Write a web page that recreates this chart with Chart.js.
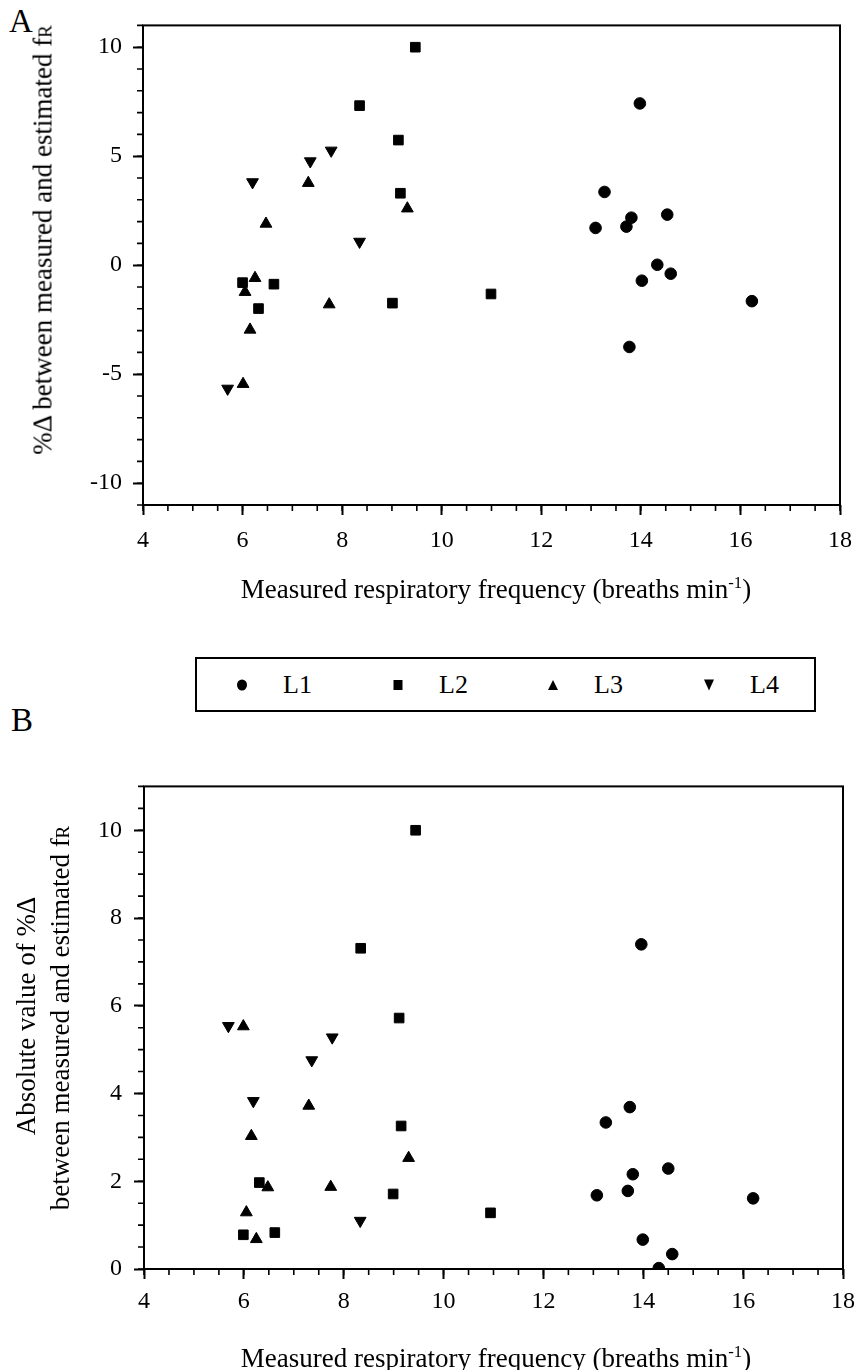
<!DOCTYPE html>
<html>
<head>
<meta charset="utf-8">
<script src="https://cdn.jsdelivr.net/npm/chart.js@4.4.1/dist/chart.umd.min.js"></script>
<style>
  body { margin:0; background:#fff; color:#000; font-family:"Liberation Serif","Times New Roman",serif }
  #page { position:relative; width:863px; height:1370px; overflow:hidden; background:#fff }
  .wrap { position:absolute; left:0; width:863px }
  .t { position:absolute; white-space:nowrap; transform:translate(-50%,-50%); font-size:27px; line-height:1 }
  .rot { transform:translate(-50%,-50%) rotate(-90deg) }
  .panel { position:absolute; font-size:33px; line-height:1 }
  .sup { font-size:0.62em; position:relative; top:-0.62em }
  .sub { font-size:0.7em }
  #legend { position:absolute; left:195px; top:657px; width:617px; height:51px; border:2px solid #000 }
  .li { position:absolute; top:50%; transform:translateY(-50%); font-size:26px; line-height:1 }
  .mk { position:absolute; top:50%; transform:translate(-50%,-50%) }
</style>
</head>
<body>
<div id="page">
  <div class="panel" style="left:9px;top:5px">A</div>
  <div class="panel" style="left:11px;top:704px">B</div>

  <div class="wrap" style="top:0;height:620px"><canvas id="chartA"></canvas></div>
  <div class="wrap" style="top:760px;height:610px"><canvas id="chartB"></canvas></div>

  <div class="t rot" style="left:43px;top:240px">%&Delta; between measured and estimated f<span class="sub">R</span></div>
  <div class="t" style="left:496px;top:589px">Measured respiratory frequency (breaths min<span class="sup">-1</span>)</div>

  <div class="t rot" style="left:26px;top:1016px">Absolute value of %&Delta;</div>
  <div class="t rot" style="left:60px;top:1018px">between measured and estimated f<span class="sub">R</span></div>
  <div class="t" style="left:496px;top:1358px">Measured respiratory frequency (breaths min<span class="sup">-1</span>)</div>

  <div id="legend"></div>
</div>

<script>
// series names and marker styles
const seriesNames = ['L1', 'L2', 'L3', 'L4']

// x ticks shared by both panels
const xTicks = [4, 6, 8, 10, 12, 14, 16, 18]

// panel A: %delta between measured and estimated fR
const aTicks = [-10, -5, 0, 5, 10]
const aL1x = [13.98, 13.27, 13.81, 14.53, 13.09, 13.71, 14.33, 14.60, 14.02, 16.23, 13.77]
const aL1y = [7.42, 3.36, 2.18, 2.32, 1.71, 1.77, 0.02, -0.39, -0.71, -1.65, -3.75]
const aL2x = [9.47, 8.35, 9.13, 9.17, 6.00, 6.63, 6.32, 9.01, 10.99]
const aL2y = [10.0, 7.32, 5.74, 3.30, -0.80, -0.87, -1.99, -1.74, -1.32]
const aL3x = [7.32, 9.31, 6.47, 6.25, 6.05, 7.74, 6.15, 6.01]
const aL3y = [3.77, 2.60, 1.90, -0.59, -1.23, -1.80, -2.96, -5.45]
const aL4x = [7.78, 7.36, 6.20, 8.35, 5.70]
const aL4y = [5.26, 4.77, 3.81, 1.08, -5.66]

// panel B: absolute value of %delta
const bTicks = [0, 2, 4, 6, 8, 10]
const bL1x = [13.96, 13.73, 13.25, 14.50, 13.79, 13.07, 13.69, 16.20, 13.99, 14.58, 14.31]
const bL1y = [7.40, 3.69, 3.34, 2.29, 2.16, 1.68, 1.78, 1.61, 0.67, 0.34, 0.02]
const bL2x = [9.44, 8.34, 9.11, 9.15, 6.31, 8.99, 10.94, 5.99, 6.62]
const bL2y = [10.0, 7.31, 5.72, 3.26, 1.97, 1.71, 1.28, 0.78, 0.83]
const bL3x = [5.99, 7.30, 6.15, 9.30, 6.48, 7.74, 6.05, 6.25]
const bL3y = [5.53, 3.72, 3.03, 2.53, 1.86, 1.87, 1.29, 0.68]
const bL4x = [5.69, 7.77, 7.36, 6.19, 8.33]
const bL4y = [5.54, 5.28, 4.76, 3.83, 1.10]

const markers = [
  { pointStyle: 'circle', radius: 5.8, rotation: 0 },
  { pointStyle: 'rect', radius: 6.8, rotation: 0 },
  { pointStyle: 'triangle', radius: 6.8, rotation: 0 },
  { pointStyle: 'triangle', radius: 6.8, rotation: 180 }
]

function pts(xs, ys) { return xs.map((x, i) => ({ x: x, y: ys[i] })) }

function makeSets(list) {
  return list.map((p, i) => ({
    label: seriesNames[i],
    data: pts(p[0], p[1]),
    pointStyle: markers[i].pointStyle,
    pointRadius: markers[i].radius,
    pointRotation: markers[i].rotation,
    pointBackgroundColor: '#000',
    pointBorderColor: '#000',
    pointBorderWidth: 1,
    showLine: false
  }))
}

// box around the plot + short minor ticks
const frame = {
  id: 'frame',
  afterDraw(chart, args, opts) {
    const { ctx, chartArea: a, scales } = chart
    ctx.save()
    ctx.strokeStyle = '#000'
    ctx.lineWidth = 2
    ctx.strokeRect(a.left, a.top, a.right - a.left, a.bottom - a.top)
    ctx.lineWidth = 1.6
    ctx.beginPath()
    for (let v = scales.x.min; v <= scales.x.max + 1e-9; v += opts.xMinor) {
      const px = scales.x.getPixelForValue(v)
      ctx.moveTo(px, a.bottom)
      ctx.lineTo(px, a.bottom + 6)
    }
    for (let v = scales.y.min; v <= scales.y.max + 1e-9; v += opts.yMinor) {
      const py = scales.y.getPixelForValue(v)
      ctx.moveTo(a.left, py)
      ctx.lineTo(a.left - 6, py)
    }
    ctx.stroke()
    ctx.restore()
  }
}

const tickFont = { family: '"Liberation Serif", "Times New Roman", serif', size: 24 }

function makeChart(id, sets, yMin, yMax, yTicks, yMinor, pad, yW, xH, xPad, yPad) {
  return new Chart(document.getElementById(id), {
    type: 'scatter',
    data: { datasets: sets },
    options: {
      responsive: true,
      maintainAspectRatio: false,
      animation: false,
      layout: { padding: pad },
      plugins: { legend: { display: false }, tooltip: { enabled: false }, frame: { xMinor: 0.5, yMinor: yMinor } },
      scales: {
        x: {
          type: 'linear', min: 4, max: 18,
          afterBuildTicks: s => { s.ticks = xTicks.map(v => ({ value: v })) },
          afterFit: s => { s.height = xH },
          grid: { drawOnChartArea: false, drawTicks: true, tickLength: 10, tickColor: '#000', tickWidth: 2 },
          border: { display: false },
          ticks: { color: '#000', font: tickFont, padding: xPad, autoSkip: false, maxRotation: 0 }
        },
        y: {
          type: 'linear', min: yMin, max: yMax,
          afterBuildTicks: s => { s.ticks = yTicks.map(v => ({ value: v })) },
          afterFit: s => { s.width = yW },
          grid: { drawOnChartArea: false, drawTicks: true, tickLength: 10, tickColor: '#000', tickWidth: 2 },
          border: { display: false },
          ticks: { color: '#000', font: tickFont, padding: yPad, autoSkip: false }
        }
      }
    },
    plugins: [frame]
  })
}

makeChart('chartA',
  makeSets([[aL1x, aL1y], [aL2x, aL2y], [aL3x, aL3y], [aL4x, aL4y]]),
  -11, 11, aTicks, 1, { top: 11, right: 20, left: 0, bottom: 0 }, 143, 115, 11, 11)

makeChart('chartB',
  makeSets([[bL1x, bL1y], [bL2x, bL2y], [bL3x, bL3y], [bL4x, bL4y]]),
  0, 11, bTicks, 0.5, { top: 10, right: 19, left: 0, bottom: 0 }, 144, 101, 8, 12)

// legend box between the panels
const legendMarks = [
  'width:10px;height:11px;border-radius:50%;background:#000',
  'width:9px;height:10px;background:#000',
  'width:0;height:0;border-left:5.5px solid transparent;border-right:5.5px solid transparent;border-bottom:10px solid #000',
  'width:0;height:0;border-left:5.5px solid transparent;border-right:5.5px solid transparent;border-top:11px solid #000'
]
const legendMarkX = [45, 201, 356, 512]
let lg = ''
seriesNames.forEach((name, i) => {
  lg += `<span class="mk" style="left:${legendMarkX[i]}px;${legendMarks[i]}"></span>`
  lg += `<span class="li" style="left:${legendMarkX[i] + 41}px">${name}</span>`
})
document.getElementById('legend').innerHTML = lg
</script>
</body>
</html>
